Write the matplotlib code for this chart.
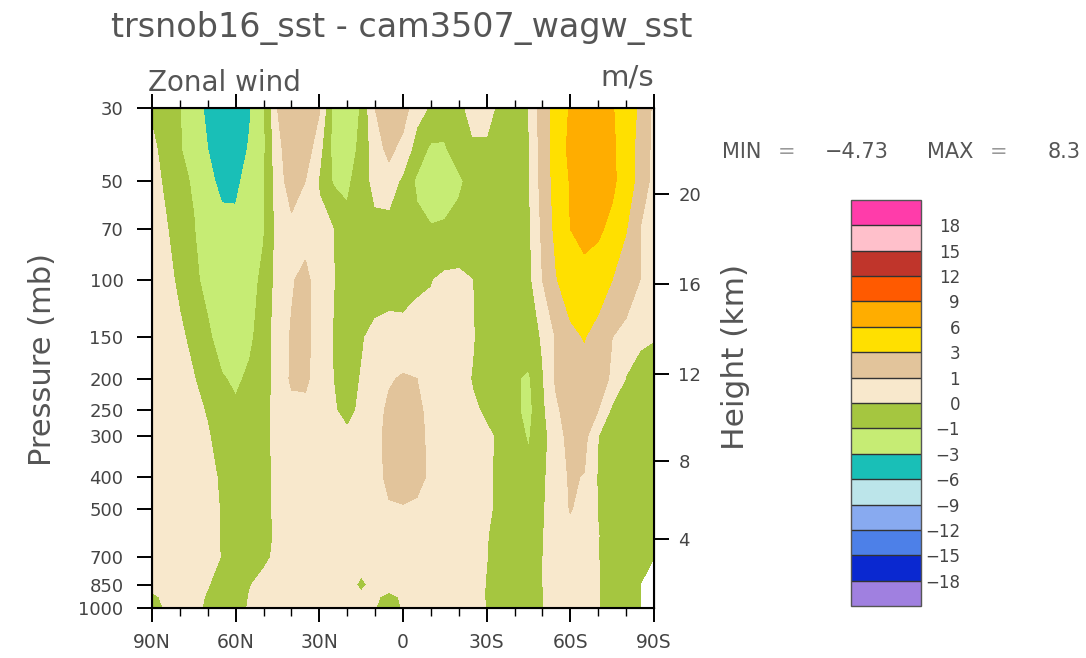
import numpy as np
import matplotlib.pyplot as plt
from matplotlib.ticker import NullLocator

# zonal-mean zonal wind difference (m/s): one row per pressure level, columns 90N -> 90S every 5 deg
lats = list(range(90, -91, -5))
plevs = [30, 40, 50, 70, 100, 150, 200, 250, 300, 400, 500, 600, 700, 850, 925, 1000]
nan = np.nan

u_30 = [-0.2, -0.7, -0.95, -2.0, -3.5, -4.5, -4.7, -3.2, -1.2, 1.0, 2.2, 2.0, 1.1, -1.3, -1.8, -0.9, 1.0, 2.0, 1.5,
        0.3, -0.1, -0.6, -0.3, 0.4, 0.4, -0.3, -0.5, 0.0, 1.5, 4.0, 6.3, 7.5, 7.2, 6.2, 4.5, 2.5, 0.6]
u_40 = [0.3, -0.5, -0.9, -1.8, -3.0, -4.2, -4.0, -2.8, -1.2, 0.6, 1.8, 1.6, 0.3, -1.3, -1.6, -0.7, 0.5, 1.3, 0.6,
        -0.4, -1.2, -1.1, -0.5, -0.2, -0.2, -0.5, -0.6, -0.1, 1.5, 4.0, 6.8, 8.3, 8.0, 6.5, 4.5, 2.0, 0.6]
u_50 = [0.4, -0.2, -0.8, -1.1, -2.5, -3.5, -3.4, -2.3, -1.1, 0.5, 1.5, 1.0, -0.1, -1.1, -1.2, -0.5, 0.3, 0.5, -0.2,
        -1.2, -1.8, -1.7, -1.2, -0.6, -0.5, -0.6, -0.6, -0.1, 1.4, 4.0, 6.2, 7.8, 7.6, 6.6, 4.5, 2.0, 0.5]
u_70 = [0.5, 0.1, -0.6, -0.95, -1.8, -2.3, -2.5, -2.0, -1.1, 0.3, 0.7, 0.6, 0.3, 0.0, -0.7, -0.6, -0.3, -0.4, -0.6,
        -0.7, -0.9, -0.8, -0.6, -0.5, -0.5, -0.5, -0.5, -0.2, 1.2, 3.6, 6.0, 6.8, 6.5, 5.2, 3.1, 1.0, 0.6]
u_100 = [0.6, 0.3, -0.2, -0.8, -1.3, -1.8, -1.9, -1.5, -0.7, 0.3, 0.9, 1.3, 0.4, 0.05, -0.6, -0.6, -0.5, -0.5, -0.45,
         -0.2, -0.05, 0.2, 0.2, 0.0, -0.5, -0.6, -0.6, -0.3, 1.0, 2.9, 4.2, 5.0, 4.2, 3.0, 1.8, 1.0, 0.6]
u_150 = [0.7, 0.5, 0.2, -0.3, -0.8, -1.5, -1.6, -1.2, -0.5, 0.4, 1.1, 1.3, 0.5, -0.05, -0.5, -0.1, 0.3, 0.5, 0.4,
         0.5, 0.4, 0.4, 0.3, 0.05, -0.4, -0.6, -0.8, -0.5, 0.1, 1.1, 2.4, 3.1, 2.0, 1.0, 0.5, 0.2, 0.05]
u_200 = [0.8, 0.7, 0.4, 0.05, -0.6, -0.9, -1.2, -0.8, -0.4, 0.3, 1.15, 1.2, 0.5, 0.0, -0.4, 0.05, 0.4, 0.9, 1.1,
         1.0, 0.5, 0.3, 0.3, -0.05, -0.2, -0.7, -0.9, -1.15, -0.1, 1.2, 2.0, 2.2, 1.6, 0.8, -0.05, -0.5, -0.6]
u_250 = [0.8, 0.8, 0.6, 0.3, -0.1, -0.6, -0.8, -0.6, -0.3, 0.3, 0.7, 0.7, 0.5, 0.1, -0.3, 0.2, 0.6, 1.2, 1.5,
         1.3, 0.6, 0.4, 0.3, 0.1, -0.1, -0.6, -0.8, -1.3, -0.2, 0.8, 1.6, 1.8, 1.0, -0.2, -0.6, -0.7, -0.7]
u_300 = [0.8, 0.8, 0.7, 0.5, 0.1, -0.5, -0.6, -0.5, -0.3, 0.3, 0.6, 0.7, 0.6, 0.5, 0.2, 0.5, 0.7, 1.3, 1.6,
         1.4, 0.7, 0.5, 0.4, 0.3, 0.1, -0.1, -0.6, -1.1, -0.3, 0.5, 1.4, 1.3, 0.0, -0.6, -0.8, -0.8, -0.7]
u_400 = [0.8, 0.8, 0.8, 0.7, 0.4, -0.2, -0.6, -0.6, -0.4, 0.3, 0.6, 0.7, 0.7, 0.6, 0.6, 0.6, 0.7, 1.2, 1.5,
         1.3, 0.8, 0.6, 0.5, 0.4, 0.2, -0.3, -0.6, -0.7, -0.2, 0.6, 1.1, 0.95, -0.1, -0.6, -0.8, -0.8, -0.7]
u_500 = [0.8, 0.8, 0.8, 0.7, 0.5, -0.1, -0.5, -0.6, -0.4, 0.3, 0.6, 0.6, 0.6, 0.6, 0.6, 0.6, 0.7, 0.9, 0.9,
         0.8, 0.7, 0.6, 0.5, 0.4, 0.2, -0.3, -0.5, -0.6, -0.1, 0.5, 1.05, 0.7, -0.05, -0.5, -0.7, -0.7, -0.6]
u_600 = [0.8, 0.8, 0.8, 0.7, 0.5, -0.1, -0.5, -0.6, -0.4, 0.2, 0.6, 0.6, 0.6, 0.6, 0.6, 0.6, 0.6, 0.7, 0.7,
         0.7, 0.6, 0.6, 0.5, 0.4, 0.05, -0.4, -0.5, -0.5, -0.05, 0.5, 0.7, 0.6, 0.03, -0.5, -0.6, -0.6, -0.5]
u_700 = [0.8, 0.8, 0.7, 0.6, 0.4, -0.05, -0.5, -0.5, -0.2, 0.2, 0.5, 0.6, 0.6, 0.6, 0.5, 0.4, 0.5, 0.6, 0.6,
         0.6, 0.6, 0.5, 0.5, 0.4, 0.02, -0.4, -0.5, -0.5, -0.02, 0.5, 0.6, 0.5, 0.02, -0.4, -0.5, -0.4, -0.3]
u_850 = [0.3, 0.6, 0.6, 0.4, 0.05, -0.4, -0.5, -0.05, 0.3, 0.5, 0.5, 0.5, 0.5, 0.4, 0.4, -0.2, 0.3, 0.3, 0.4,
         0.5, 0.5, 0.5, 0.4, 0.4, -0.05, -0.4, -0.5, -0.4, -0.02, 0.5, 0.6, 0.5, 0.05, -0.4, -0.5, -0.4, nan]
u_925 = [-0.2, 0.2, 0.5, 0.3, -0.1, -0.4, -0.5, 0.05, 0.4, 0.5, 0.5, 0.4, 0.4, 0.4, 0.4, 0.2, 0.1, -0.2, 0.1,
         0.4, 0.4, 0.4, 0.4, 0.3, -0.05, -0.4, -0.5, -0.4, -0.02, 0.4, 0.5, 0.4, 0.03, -0.4, -0.4, -0.3, nan]
u_1000 = [-0.4, 0.1, 0.5, 0.3, -0.2, -0.5, -0.4, 0.1, 0.4, 0.4, 0.4, 0.4, 0.3, 0.3, 0.3, 0.2, 0.02, -0.3, 0.05,
          0.3, 0.4, 0.4, 0.4, 0.3, -0.02, -0.4, -0.5, -0.4, -0.02, 0.4, 0.5, 0.3, 0.02, -0.3, -0.3, -0.2, nan]

u = np.ma.masked_invalid(np.array([u_30, u_40, u_50, u_70, u_100, u_150, u_200, u_250, u_300,
                                   u_400, u_500, u_600, u_700, u_850, u_925, u_1000]))

cn_levels = [-18, -15, -12, -9, -6, -3, -1, 0, 1, 3, 6, 9, 12, 15, 18]
fill_colors = ["#a080e0", "#0a28d0", "#4d80e8", "#88aaf0", "#bce5ea", "#19bfb7", "#c6ec74", "#a5c640",
               "#f8e8cc", "#e2c49b", "#ffe000", "#ffad00", "#ff5a00", "#c0352b", "#ffc0cb", "#ff3caa"]

xticks = [90, 60, 30, 0, -30, -60, -90]
xlabels = ["90N", "60N", "30N", "0", "30S", "60S", "90S"]
pticks = [30, 50, 70, 100, 150, 200, 250, 300, 400, 500, 700, 850, 1000]
hticks = [20, 16, 12, 8, 4]


def std_atm_p(z_km):
    # US standard atmosphere pressure (mb) at height z_km
    z = z_km * 1000.0
    if z <= 11000:
        return 1013.25 * (1 - 2.25577e-5 * z) ** 5.25588
    return 226.32 * np.exp(-1.57688e-4 * (z - 11000))


W, H = 1086, 658
txt = "#444444"
fig = plt.figure(figsize=(W / 100, H / 100), dpi=100)
ax = fig.add_axes([152 / W, 1 - 608 / H, 502 / W, 500 / H])

cf = ax.contourf(lats, plevs, u, levels=[-100] + cn_levels + [100], colors=fill_colors)
ax.set_yscale("log")
ax.set_ylim(1000, 30)
ax.set_xlim(90, -90)
ax.set_yticks(pticks)
ax.set_yticklabels([str(p) for p in pticks])
ax.yaxis.set_minor_locator(NullLocator())
ax.set_xticks(xticks)
ax.set_xticklabels(xlabels)
ax.set_xticks(range(90, -91, -10), minor=True)
ax.tick_params(axis="x", which="both", direction="out", top=True, labelsize=13.5, labelcolor=txt)
ax.tick_params(axis="x", which="major", length=10, width=1.4, pad=8)
ax.tick_params(axis="x", which="minor", length=5.5, width=1.0)
ax.tick_params(axis="y", which="major", direction="out", length=10.5, width=1.4, pad=10,
               labelsize=13, labelcolor=txt)
for s in ax.spines.values():
    s.set_linewidth(1.5)

ax2 = ax.twinx()
ax2.set_yscale("log")
ax2.set_ylim(1000, 30)
ax2.set_yticks([std_atm_p(h) for h in hticks])
ax2.set_yticklabels([str(h) for h in hticks])
ax2.yaxis.set_minor_locator(NullLocator())
ax2.tick_params(axis="y", direction="out", length=10.5, width=1.4, pad=7, labelsize=13, labelcolor=txt)

fig.text(43 / W, 1 - 360 / H, "Pressure (mb)", rotation=90, ha="center", va="center",
         fontsize=22, color="#555555")
fig.text(735 / W, 1 - 357 / H, "Height (km)", rotation=90, ha="center", va="center",
         fontsize=22.5, color="#555555")

fig.text(402 / W, 1 - 37 / H, "trsnob16_sst - cam3507_wagw_sst", ha="center", va="baseline",
         fontsize=24, color="#555555")
fig.text(148 / W, 1 - 91 / H, "Zonal wind", ha="left", va="baseline", fontsize=20, color="#555555")
fig.text(654 / W, 1 - 86 / H, "m/s", ha="right", va="baseline", fontsize=21, color="#555555")

# min / max annotation
fig.text(722 / W, 1 - 158 / H, "MIN", ha="left", va="baseline", fontsize=15, color="#555555")
fig.text(778 / W, 1 - 158 / H, "=", ha="left", va="baseline", fontsize=15, color="#999999")
fig.text(825 / W, 1 - 158 / H, "\u22124.73", ha="left", va="baseline", fontsize=15, color="#555555")
fig.text(927 / W, 1 - 158 / H, "MAX", ha="left", va="baseline", fontsize=15, color="#555555")
fig.text(990 / W, 1 - 158 / H, "=", ha="left", va="baseline", fontsize=15, color="#999999")
fig.text(1048 / W, 1 - 158 / H, "8.3", ha="left", va="baseline", fontsize=15, color="#555555")

cax = fig.add_axes([851 / W, 1 - 606 / H, 70 / W, 406 / H])
cb = fig.colorbar(cf, cax=cax, ticks=cn_levels, spacing="uniform", drawedges=True)
cb.outline.set_edgecolor("#555555")
cb.outline.set_linewidth(1.0)
cb.dividers.set_color("#333333")
cb.dividers.set_linewidth(1.0)
cb.set_ticklabels([str(v).replace("-", "\u2212") for v in cn_levels])
cax.tick_params(length=0, pad=28, labelsize=12, labelcolor=txt)
for lab in cax.get_yticklabels():
    lab.set_horizontalalignment("right")

fig.savefig("out.png", dpi=100)
